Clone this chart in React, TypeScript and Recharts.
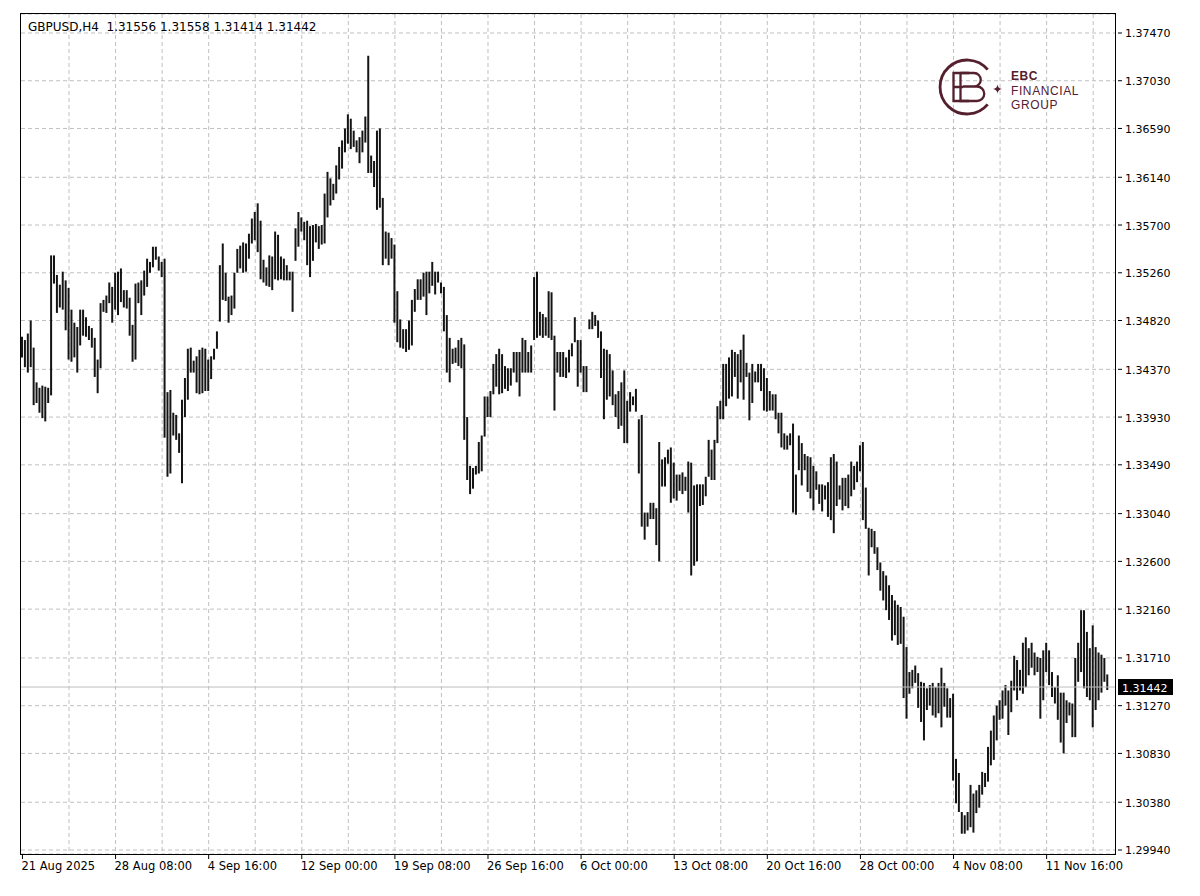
import React from "react";
import { ComposedChart, Bar, XAxis, YAxis, CartesianGrid, ReferenceLine } from "recharts";

// ---------- layout ----------
const W = 1200;
const H = 896;
const M = { top: 14, right: 0, bottom: 0, left: 21 };
const Y_AXIS_W = 85;
const X_AXIS_H = 42;
const FONT = "DejaVu Sans";
const LOGO = "#55202e";

// ---------- data ----------
const symbol = "GBPUSD,H4";
const lastBar = { open: 1.31556, high: 1.31558, low: 1.31414, close: 1.31442 };

const highs: number[] = [
  1.3467, 1.3464, 1.3470, 1.3482, 1.3457, 1.3425, 1.3420, 1.3422, 1.3421, 1.3420,
  1.3542, 1.3542, 1.3524, 1.3515, 1.3527, 1.3519, 1.3512, 1.3492, 1.3480, 1.3476,
  1.3492, 1.3492, 1.3485, 1.3477, 1.3475, 1.3466, 1.3446, 1.3498, 1.3501, 1.3505,
  1.3517, 1.3513, 1.3526, 1.3527, 1.3530, 1.3510, 1.3510, 1.3503, 1.3478, 1.3516,
  1.3517, 1.3519, 1.3528, 1.3539, 1.3536, 1.3550, 1.3550, 1.3541, 1.3536, 1.3539,
  1.3416, 1.3418, 1.3397, 1.3395, 1.3378, 1.3409, 1.3429, 1.3456, 1.3457, 1.3445,
  1.3449, 1.3455, 1.3457, 1.3456, 1.3446, 1.3449, 1.3456, 1.3472, 1.3533, 1.3553,
  1.3526, 1.3504, 1.3505, 1.3526, 1.3548, 1.3551, 1.3554, 1.3553, 1.3562, 1.3576, 1.3582,
  1.3590, 1.3574, 1.3538, 1.3531, 1.3542, 1.3541, 1.3564, 1.3561, 1.3541, 1.3539,
  1.3533, 1.3527, 1.3527, 1.3567, 1.3582, 1.3577, 1.3573, 1.3574, 1.3569, 1.3570,
  1.3571, 1.3569, 1.3570, 1.3599, 1.3619, 1.3613, 1.3608, 1.3625, 1.3642, 1.3648,
  1.3659, 1.3672, 1.3668, 1.3657, 1.3648, 1.3651, 1.3657, 1.3670, 1.3726, 1.3634,
  1.3629, 1.3657, 1.3659, 1.3595, 1.3564, 1.3563, 1.3558, 1.3552, 1.3509, 1.3483,
  1.3474, 1.3474, 1.3482, 1.3501, 1.3511, 1.3520, 1.3520, 1.3526, 1.3527, 1.3527,
  1.3536, 1.3527, 1.3527, 1.3517, 1.3513, 1.3487, 1.3466, 1.3456, 1.3457, 1.3464,
  1.3466, 1.3460, 1.3393, 1.3348, 1.3346, 1.3348, 1.3370, 1.3376, 1.3412, 1.3412,
  1.3417, 1.3442, 1.3451, 1.3456, 1.3451, 1.3440, 1.3438, 1.3438, 1.3453, 1.3453,
  1.3453, 1.3466, 1.3464, 1.3453, 1.3459, 1.3522, 1.3527, 1.3490, 1.3488, 1.3485,
  1.3509, 1.3508, 1.3468, 1.3453, 1.3453, 1.3453, 1.3448, 1.3455, 1.3461, 1.3485,
  1.3464, 1.3464, 1.3440, 1.3440, 1.3483, 1.3490, 1.3487, 1.3482, 1.3472, 1.3456,
  1.3455, 1.3451, 1.3436, 1.3414, 1.3417, 1.3425, 1.3436, 1.3408, 1.3416, 1.3412,
  1.3419, 1.3391, 1.3395, 1.3305, 1.3305, 1.3314, 1.3314, 1.3309, 1.3370, 1.3354,
  1.3356, 1.3363, 1.3365, 1.3351, 1.3340, 1.3340, 1.3342, 1.3338, 1.3352, 1.3351, 1.3330, 1.3331,
  1.3331, 1.3331, 1.3338, 1.3372, 1.3363, 1.3372, 1.3403, 1.3408, 1.3442, 1.3442,
  1.3448, 1.3455, 1.3453, 1.3451, 1.3455, 1.3469, 1.3443, 1.3434, 1.3442, 1.3435,
  1.3442, 1.3442, 1.3438, 1.3429, 1.3417, 1.3414, 1.3414, 1.3397, 1.3397,
  1.3378, 1.3376, 1.3378, 1.3387, 1.3340, 1.3376, 1.3369, 1.3359, 1.3357, 1.3356,
  1.3348, 1.3343, 1.3331, 1.3331, 1.3330, 1.3333, 1.3356, 1.3359, 1.3352, 1.3330,
  1.3337, 1.3337, 1.3340, 1.3352, 1.3348, 1.3352, 1.3367, 1.3370, 1.3328, 1.3291,
  1.3290, 1.3288, 1.3273, 1.3259, 1.3251, 1.3247, 1.3238, 1.3229, 1.3224, 1.3220,
  1.3218, 1.3209, 1.3181, 1.3158, 1.3160, 1.3164, 1.3157, 1.3149, 1.3148, 1.3143,
  1.3146, 1.3148, 1.3144, 1.3148, 1.3162, 1.3148, 1.3143, 1.3134, 1.3138, 1.3078,
  1.3065, 1.3029, 1.3026, 1.3029, 1.3054, 1.3046, 1.3049, 1.3054, 1.3066, 1.3065,
  1.3089, 1.3104, 1.3118, 1.3127, 1.3132, 1.3141, 1.3146, 1.3141, 1.3150, 1.3173,
  1.3169, 1.3160, 1.3185, 1.3190, 1.3180, 1.3185, 1.3176, 1.3172, 1.3171, 1.3178,
  1.3185, 1.3178, 1.3158, 1.3144, 1.3155, 1.3139, 1.3139, 1.3132, 1.3130, 1.3129,
  1.3171, 1.3185, 1.3215, 1.3215, 1.3195, 1.3180, 1.3201, 1.3181, 1.3176, 1.3174,
  1.3171, 1.31558,
];

const lows: number[] = [
  1.3448, 1.3439, 1.3434, 1.3439, 1.3404, 1.3406, 1.3397, 1.3392, 1.3389, 1.3406,
  1.3413, 1.3516, 1.3489, 1.3494, 1.3492, 1.3473, 1.3446, 1.3444, 1.3448, 1.3434,
  1.3459, 1.3468, 1.3467, 1.3464, 1.3457, 1.3430, 1.3415, 1.3438, 1.3490, 1.3489,
  1.3498, 1.3480, 1.3492, 1.3487, 1.3499, 1.3494, 1.3493, 1.3468, 1.3444, 1.3446,
  1.3498, 1.3487, 1.3505, 1.3513, 1.3526, 1.3531, 1.3538, 1.3528, 1.3522, 1.3374,
  1.3338, 1.3341, 1.3376, 1.3372, 1.3360, 1.3332, 1.3393, 1.3409, 1.3434, 1.3434,
  1.3415, 1.3414, 1.3415, 1.3417, 1.3417, 1.3428, 1.3446, 1.3456, 1.3481, 1.3501,
  1.3500, 1.3480, 1.3487, 1.3493, 1.3526, 1.3530, 1.3526, 1.3527, 1.3539, 1.3553, 1.3556,
  1.3545, 1.3520, 1.3517, 1.3514, 1.3513, 1.3510, 1.3520, 1.3519, 1.3520, 1.3519,
  1.3519, 1.3519, 1.3490, 1.3537, 1.3550, 1.3564, 1.3556, 1.3533, 1.3522, 1.3537,
  1.3554, 1.3548, 1.3552, 1.3553, 1.3577, 1.3588, 1.3593, 1.3599, 1.3612, 1.3622,
  1.3637, 1.3645, 1.3640, 1.3642, 1.3637, 1.3627, 1.3637, 1.3646, 1.3618, 1.3618,
  1.3605, 1.3584, 1.3586, 1.3533, 1.3539, 1.3533, 1.3539, 1.3480, 1.3462, 1.3457,
  1.3456, 1.3453, 1.3455, 1.3459, 1.3490, 1.3501, 1.3501, 1.3504, 1.3487, 1.3507,
  1.3514, 1.3506, 1.3517, 1.3507, 1.3472, 1.3434, 1.3425, 1.3442, 1.3443, 1.3440,
  1.3438, 1.3372, 1.3335, 1.3322, 1.3327, 1.3340, 1.3341, 1.3343, 1.3375, 1.3393,
  1.3393, 1.3414, 1.3421, 1.3414, 1.3415, 1.3419, 1.3417, 1.3422, 1.3434, 1.3425,
  1.3412, 1.3434, 1.3434, 1.3434, 1.3434, 1.3464, 1.3466, 1.3468, 1.3466, 1.3468,
  1.3466, 1.3464, 1.3399, 1.3434, 1.3430, 1.3430, 1.3429, 1.3434, 1.3449, 1.3462,
  1.3421, 1.3434, 1.3416, 1.3416, 1.3474, 1.3474, 1.3477, 1.3466, 1.3429, 1.3391,
  1.3409, 1.3412, 1.3404, 1.3393, 1.3382, 1.3385, 1.3369, 1.3369, 1.3398, 1.3404,
  1.3398, 1.3341, 1.3292, 1.3280, 1.3292, 1.3299, 1.3299, 1.3275, 1.3260, 1.3329,
  1.3329, 1.3350, 1.3314, 1.3318, 1.3316, 1.3325, 1.3322, 1.3325, 1.3305, 1.3247, 1.3256, 1.3260,
  1.3311, 1.3312, 1.3320, 1.3338, 1.3335, 1.3335, 1.3369, 1.3391, 1.3391, 1.3403,
  1.3410, 1.3412, 1.3430, 1.3410, 1.3425, 1.3409, 1.3430, 1.3390, 1.3406, 1.3425,
  1.3425, 1.3417, 1.3399, 1.3398, 1.3399, 1.3399, 1.3391, 1.3378, 1.3365,
  1.3363, 1.3363, 1.3367, 1.3305, 1.3303, 1.3344, 1.3330, 1.3344, 1.3324, 1.3318,
  1.3307, 1.3326, 1.3313, 1.3306, 1.3317, 1.3301, 1.3298, 1.3286, 1.3311, 1.3317,
  1.3307, 1.3311, 1.3309, 1.3320, 1.3326, 1.3333, 1.3343, 1.3298, 1.3290, 1.3247,
  1.3273, 1.3267, 1.3252, 1.3233, 1.3224, 1.3215, 1.3206, 1.3187, 1.3192, 1.3183,
  1.3184, 1.3134, 1.3115, 1.3138, 1.3143, 1.3148, 1.3125, 1.3112, 1.3095, 1.3123,
  1.3127, 1.3118, 1.3116, 1.3120, 1.3107, 1.3126, 1.3116, 1.3116, 1.3058, 1.3037,
  1.3029, 1.3009, 1.3009, 1.3012, 1.3015, 1.3010, 1.3028, 1.3033, 1.3045, 1.3052,
  1.3057, 1.3072, 1.3077, 1.3095, 1.3114, 1.3115, 1.3127, 1.3100, 1.3121, 1.3141,
  1.3132, 1.3141, 1.3138, 1.3144, 1.3155, 1.3162, 1.3155, 1.3158, 1.3115, 1.3132,
  1.3158, 1.3146, 1.3135, 1.3129, 1.3114, 1.3093, 1.3083, 1.3111, 1.3118, 1.3098,
  1.3098, 1.3149, 1.3158, 1.3143, 1.3135, 1.3132, 1.3107, 1.3123, 1.3132, 1.3139,
  1.3149, 1.31414,
];

const priceTicks: number[] = [
  1.3747, 1.3703, 1.3659, 1.3614, 1.357, 1.3526, 1.3482, 1.3437, 1.3393,
  1.3349, 1.3304, 1.326, 1.3216, 1.3171, 1.3127, 1.3083, 1.3038, 1.2994,
];
const priceDomain: [number, number] = [1.29903, 1.37645];

const timeLabels: string[] = [
  "21 Aug 2025", "28 Aug 08:00", "4 Sep 16:00", "12 Sep 00:00", "19 Sep 08:00", "26 Sep 16:00",
  "6 Oct 00:00", "13 Oct 08:00", "20 Oct 16:00", "28 Oct 00:00", "4 Nov 08:00", "11 Nov 16:00",
];
const barsPerLabel = 32;
const labelBars: number[] = timeLabels.map((_, k) => k * barsPerLabel);

const gridEveryBars = 16;
const rightPadBars = 2;

const data = [
  ...highs.map((h, i) => ({ i, range: [lows[i], h] })),
  ...Array.from({ length: rightPadBars }, (_, k) => ({ i: highs.length + k })),
];

// vertical grid, one line every `gridEveryBars` bars (band centres)
const plotLeft = M.left;
const plotWidth = W - M.left - M.right - Y_AXIS_W;
const band = plotWidth / data.length;
const verticalGrid: number[] = [];
for (let i = gridEveryBars; i < data.length; i += gridEveryBars) {
  verticalGrid.push(plotLeft + (i + 0.5) * band);
}

// ---------- ticks ----------
const XTick = (props: any) => {
  const { x, y, payload } = props;
  const k = labelBars.indexOf(payload.value);
  if (k < 0) return null;
  return (
    <g>
      <line x1={x} y1={y} x2={x} y2={y + 5} stroke="#000" strokeWidth={1} />
      <text x={x - 1} y={y + 15.5} fontSize={11.5} fontFamily={FONT} fill="#000">
        {timeLabels[k]}
      </text>
    </g>
  );
};

const YTick = (props: any) => {
  const { x, y, payload } = props;
  return (
    <g>
      <line x1={x + 3} y1={y} x2={x + 7} y2={y} stroke="#000" strokeWidth={1} />
      <text x={x + 10} y={y + 4.5} fontSize={11} fontFamily={FONT} fill="#000">
        {Number(payload.value).toFixed(5)}
      </text>
    </g>
  );
};

const PriceTag = (props: any) => {
  const vb = props.viewBox || {};
  const x0 = (vb.x || 0) + (vb.width || 0);
  const y0 = vb.y || 0;
  return (
    <g>
      <rect x={x0 + 3} y={y0 - 8} width={55} height={16} fill="#000" />
      <text x={x0 + 7} y={y0 + 4.5} fontSize={11} fontFamily={FONT} fill="#fff">
        {lastBar.close.toFixed(5)}
      </text>
    </g>
  );
};

const Logo = () => (
  <g>
    <path d="M 987.7 69.6 A 27 27 0 1 0 987.7 104.4" fill="none" stroke={LOGO} strokeWidth={2.8} />
    <path d="M 969 73 H 953.5 V 101 H 969 M 953.5 87 H 963" fill="none" stroke={LOGO} strokeWidth={2.3} />
    <path
      d="M 960.5 73 H 974 A 6.5 6.5 0 0 1 974 86.5 H 963 M 966 86.5 H 977 A 7.2 7.2 0 0 1 977 101 H 960.5 V 73"
      fill="none"
      stroke={LOGO}
      strokeWidth={2.3}
    />
    <path
      d="M 997.5 84.5 Q 998 88.5 1002 89 Q 998 89.5 997.5 93.5 Q 997 89.5 993 89 Q 997 88.5 997.5 84.5 Z"
      fill={LOGO}
    />
    <text x={1011} y={80} fontSize={12} fontWeight={700} fontFamily="Liberation Sans" fill={LOGO} letterSpacing={0.5}>
      EBC
    </text>
    <text x={1011} y={94.5} fontSize={12} fontFamily="Liberation Sans" fill={LOGO} letterSpacing={0.6}>
      FINANCIAL
    </text>
    <text x={1011} y={108.5} fontSize={12} fontFamily="Liberation Sans" fill={LOGO} letterSpacing={0.6}>
      GROUP
    </text>
  </g>
);

export default function App() {
  const title = `${symbol}  ${lastBar.open.toFixed(5)} ${lastBar.high.toFixed(5)} ${lastBar.low.toFixed(5)} ${lastBar.close.toFixed(5)}`;
  return (
    <div style={{ position: "absolute", left: 0, top: 0, width: W, height: H, background: "#fff" }}>
      <div style={{ position: "absolute", left: 0, top: 0 }}>
        <ComposedChart width={W} height={H} data={data} margin={M} style={{ fontFamily: FONT }}>
          <CartesianGrid stroke="#c0c0c0" strokeDasharray="4 3" verticalPoints={verticalGrid} />
          <XAxis
            dataKey="i"
            type="category"
            height={X_AXIS_H}
            ticks={labelBars}
            interval={0}
            tick={XTick}
            tickLine={false}
            axisLine={false}
            tickSize={0}
            tickMargin={0}
          />
          <YAxis
            orientation="right"
            type="number"
            width={Y_AXIS_W}
            domain={priceDomain}
            allowDataOverflow
            ticks={priceTicks}
            interval={0}
            tick={YTick}
            tickLine={false}
            axisLine={false}
            tickSize={0}
            tickMargin={0}
          />
          <ReferenceLine
            y={lastBar.close}
            stroke="#bdbdbd"
            strokeWidth={1}
            label={(p: any) => <PriceTag {...p} />}
          />
          <Bar dataKey="range" fill="#141414" barSize={2} isAnimationActive={false} />
        </ComposedChart>
      </div>
      <svg width={W} height={H} style={{ position: "absolute", left: 0, top: 0, pointerEvents: "none" }}>
        <rect x={20.5} y={13.5} width={1095} height={841} fill="none" stroke="#000" strokeWidth={1} />
        <text x={28} y={31} fontSize={12} fontFamily={FONT} fill="#000" style={{ whiteSpace: "pre" }}>
          {title}
        </text>
        <Logo />
      </svg>
    </div>
  );
}
